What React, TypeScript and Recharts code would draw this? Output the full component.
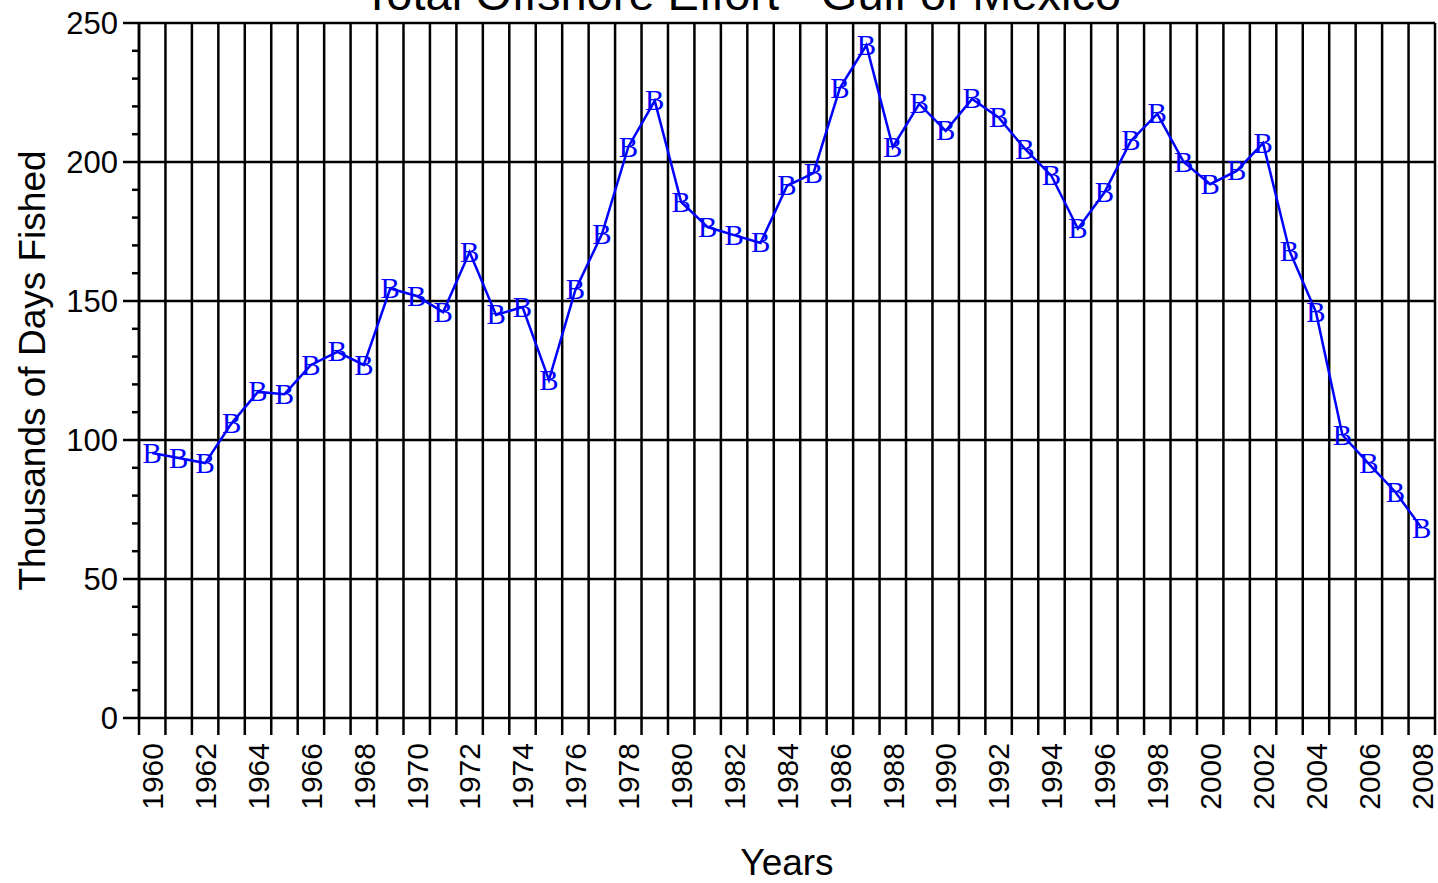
import React from 'react';
import { LineChart, Line, XAxis, YAxis, CartesianGrid } from 'recharts';

const YEARS = [
  1960, 1961, 1962, 1963, 1964, 1965, 1966, 1967, 1968, 1969,
  1970, 1971, 1972, 1973, 1974, 1975, 1976, 1977, 1978, 1979,
  1980, 1981, 1982, 1983, 1984, 1985, 1986, 1987, 1988, 1989,
  1990, 1991, 1992, 1993, 1994, 1995, 1996, 1997, 1998, 1999,
  2000, 2001, 2002, 2003, 2004, 2005, 2006, 2007, 2008,
];

// thousands of days fished
const DAYS_FISHED = [
  95.3, 93.5, 91.7, 106, 117.3, 116.5, 127, 131.7, 127, 154.5,
  151.8, 146, 167.6, 145, 147.8, 121.6, 154, 174, 205.4, 222,
  185.6, 176.6, 173.7, 170.9, 191.4, 196, 226.6, 242, 205.4, 220.9,
  211.2, 222.7, 216, 204.7, 195, 176, 189, 207.6, 217.3, 200,
  192, 196.8, 206.8, 168, 146, 101.8, 91.4, 81.3, 68.3,
];

const Y_TICKS = [
  0, 10, 20, 30, 40, 50, 60, 70, 80, 90, 100, 110, 120, 130,
  140, 150, 160, 170, 180, 190, 200, 210, 220, 230, 240, 250,
];
const Y_LABEL_STEP = 50;
const Y_GRID = [50, 100, 150, 200, 250];

const data = YEARS.map((year, i) => ({ year, days: DAYS_FISHED[i] }));
// grid lines sit between the years, labels on every other year
const yearEdges = [...YEARS.map((y) => y - 0.5), YEARS[YEARS.length - 1] + 0.5];
const yearLabels = YEARS.filter((y) => y % 2 === 0);
const xDomain = [yearEdges[0], yearEdges[yearEdges.length - 1]];

const SANS = '"Liberation Sans", Arial, Helvetica, sans-serif';
const SERIF = '"Liberation Serif", "Times New Roman", serif';
const BLACK = { stroke: '#000', strokeWidth: 2.5 };

const MAJOR_LEN = 16;
const MINOR_LEN = 7;
const Y_TICK_GAP = 5;

const NoTick = () => <g />;

// major ticks get a label and a long mark, the rest a short mark
const ValueTick = ({ x, y, payload }: any) => {
  const major = payload.value % Y_LABEL_STEP === 0;
  const x2 = x + Y_TICK_GAP + MAJOR_LEN;
  return (
    <g>
      <line x1={x2 - (major ? MAJOR_LEN : MINOR_LEN)} x2={x2} y1={y} y2={y} stroke="#000" strokeWidth={2.5} />
      {major && (
        <text x={x} y={y} dy="0.36em" textAnchor="end" fontFamily={SANS} fontSize={31} fill="#000">
          {payload.value}
        </text>
      )}
    </g>
  );
};

const YearTick = ({ x, y, payload }: any) => (
  <text
    x={x}
    y={y}
    dy="0.36em"
    transform={`rotate(-90, ${x}, ${y})`}
    textAnchor="end"
    fontFamily={SANS}
    fontSize={30}
    fill="#000"
  >
    {payload.value}
  </text>
);

const renderB = (props: any) => (
  <text
    key={`b-${props.index}`}
    x={props.cx}
    y={props.cy}
    dy="0.33em"
    textAnchor="middle"
    fontFamily={SERIF}
    fontSize={29}
    fill="#0000ff"
  >
    B
  </text>
);

export default function App() {
  return (
    <div style={{ position: 'absolute', left: 0, top: 0, width: 1438, height: 883, background: '#fff' }}>
      <LineChart width={1438} height={883} data={data} margin={{ top: 23, right: 3, bottom: 0, left: 0 }}>
        <CartesianGrid
          verticalValues={yearEdges}
          horizontalValues={Y_GRID}
          xAxisId="edges"
          stroke="#000"
          strokeWidth={2.5}
        />
        <XAxis
          xAxisId="edges"
          dataKey="year"
          type="number"
          domain={xDomain}
          ticks={yearEdges}
          interval={0}
          height={17}
          tickSize={17}
          tick={NoTick}
          axisLine={BLACK}
          tickLine={BLACK}
        />
        <XAxis
          xAxisId="labels"
          dataKey="year"
          type="number"
          domain={xDomain}
          ticks={yearLabels}
          interval={0}
          height={148}
          tickSize={0}
          tickMargin={8}
          axisLine={false}
          tickLine={false}
          tick={YearTick}
          label={{ value: 'Years', position: 'insideBottom', offset: 8, fontSize: 37, fill: '#000', fontFamily: SANS }}
        />
        <YAxis
          type="number"
          domain={[0, 250]}
          ticks={Y_TICKS}
          interval={0}
          width={139}
          tickSize={MAJOR_LEN}
          tickMargin={Y_TICK_GAP}
          axisLine={BLACK}
          tickLine={false}
          tick={ValueTick}
          label={{
            value: 'Thousands of Days Fished',
            angle: -90,
            position: 'insideLeft',
            offset: 32,
            style: { textAnchor: 'middle' },
            fontSize: 37,
            fill: '#000',
            fontFamily: SANS,
          }}
        />
        <Line
          xAxisId="edges"
          type="linear"
          dataKey="days"
          stroke="#0000ff"
          strokeWidth={2.5}
          dot={renderB}
          activeDot={false}
          isAnimationActive={false}
        />
      </LineChart>
      <svg width={1438} height={883} style={{ position: 'absolute', left: 0, top: 0, pointerEvents: 'none' }}>
        <text x={742} y={10} textAnchor="middle" fontFamily={SANS} fontSize={47} fill="#000">
          Total Offshore Effort - Gulf of Mexico
        </text>
      </svg>
    </div>
  );
}
